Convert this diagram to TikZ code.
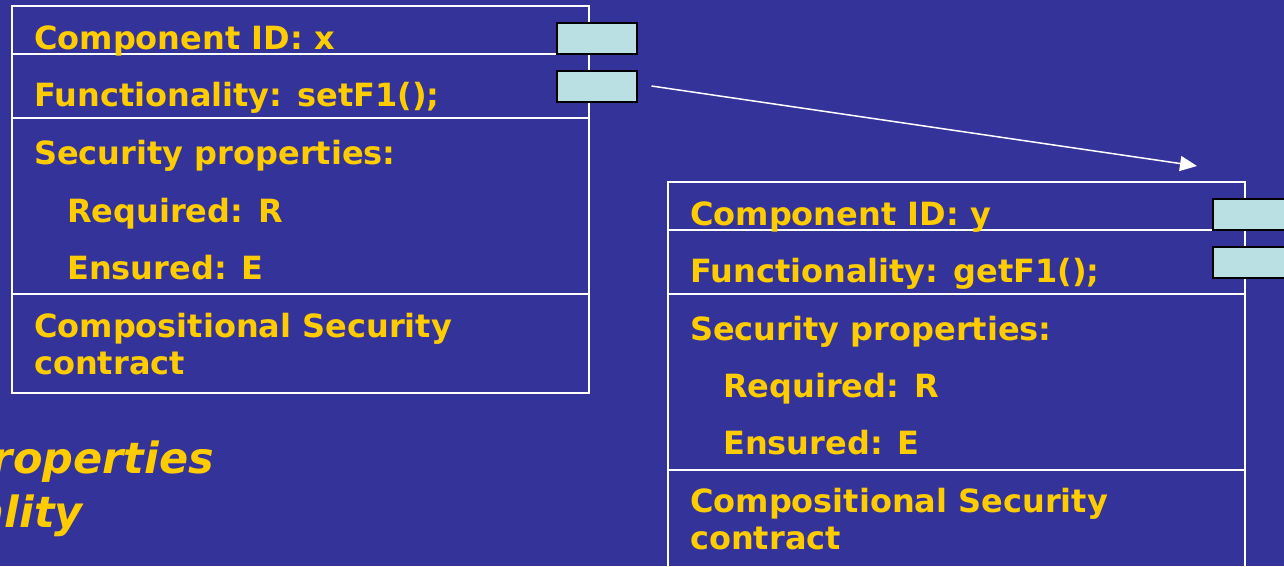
\documentclass[tikz,border=0pt]{standalone}
\usepackage{fontspec}
\setmainfont{DejaVu Sans}
\usetikzlibrary{arrows.meta}
\definecolor{bg}{HTML}{333399}
\definecolor{txt}{HTML}{FFCC00}
\definecolor{port}{HTML}{BBE0E3}
\tikzset{
  lbl/.style={anchor=base west, inner sep=0pt, text=txt, font=\fontsize{32}{38}\selectfont\bfseries},
  ital/.style={anchor=base east, inner sep=0pt, text=txt, font=\fontsize{43}{49}\selectfont\bfseries\itshape},
  frame/.style={draw=white, line width=1.8pt},
  portbox/.style={draw=black, fill=port, line width=2pt, minimum width=80pt, minimum height=31pt, inner sep=0pt},
  link/.style={draw=white, line width=1.5pt, -{Triangle[length=17pt,width=15pt]}}
}
\begin{document}
\begin{tikzpicture}[x=1pt,y=-1pt]
\useasboundingbox (0,0) rectangle (1284,566);
\fill[bg] (0,0) rectangle (1284,566);
% left component
\draw[frame] (12,6) rectangle (589,393);
\draw[frame] (12,54) -- (589,54);
\draw[frame] (12,118) -- (589,118);
\draw[frame] (12,294) -- (589,294);
\node[lbl] (lid) at (34,49) {Component ID: x};
\node[lbl] (lfun) at (34,106) {Functionality: setF1();};
\node[lbl] (lsec) at (34,164) {Security properties:};
\node[lbl] (lreq) at (67,222) {Required: R};
\node[lbl] (lens) at (67,279) {Ensured: E};
\node[lbl] (lcomp) at (34,337) {Compositional Security};
\node[lbl] (lcon) at (34,374) {contract};
\node[portbox] (lp1) at (596.5,38) {};
\node[portbox] (lp2) at (596.5,86) {};
% right component
\draw[frame] (668,570) -- (668,182) -- (1245,182) -- (1245,570);
\draw[frame] (668,230) -- (1245,230);
\draw[frame] (668,294) -- (1245,294);
\draw[frame] (668,470) -- (1245,470);
\node[lbl] (rid) at (690,225) {Component ID: y};
\node[lbl] (rfun) at (690,282) {Functionality: getF1();};
\node[lbl] (rsec) at (690,340) {Security properties:};
\node[lbl] (rreq) at (723,397) {Required: R};
\node[lbl] (rens) at (723,454) {Ensured: E};
\node[lbl] (rcomp) at (690,512) {Compositional Security};
\node[lbl] (rcon) at (690,549) {contract};
\node[portbox] (rp1) at (1252.5,214) {};
\node[portbox] (rp2) at (1252.5,262) {};
% connector
\coordinate (tip) at (1197,166);
\draw[link] ([xshift=14pt]lp2.east) -- (tip);
% cut-off italic text
\node[ital] (it1) at (214,473) {properties};
\node[ital] (it2) at (83,527) {ality};
\end{tikzpicture}
\end{document}
